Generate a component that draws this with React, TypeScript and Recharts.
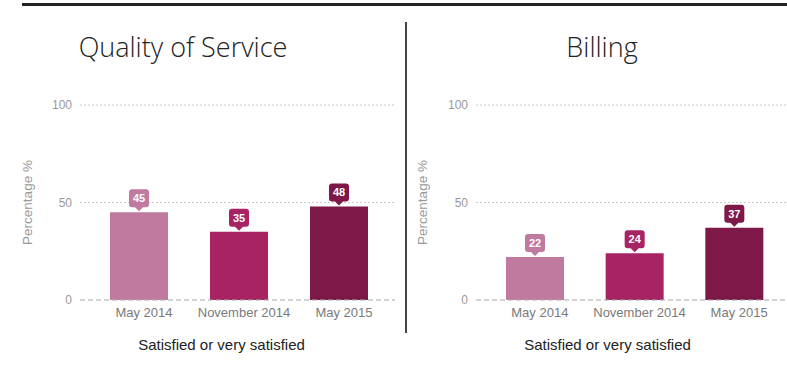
import { BarChart, Bar, XAxis, YAxis, CartesianGrid, ReferenceLine, LabelList, Cell } from 'recharts';

const periods = ['May 2014', 'November 2014', 'May 2015'];
const qualityValues = [45, 35, 48];
const billingValues = [22, 24, 37];
const barColors = ['#c07a9f', '#a72363', '#7d1849'];
const yTicks = [0, 50, 100];

const qualityData = periods.map((p, i) => ({ period: p, value: qualityValues[i] }));
const billingData = periods.map((p, i) => ({ period: p, value: billingValues[i] }));

// speech-bubble style value label above each bar
function Callout(props: any) {
  const { x, y, width, value, index } = props;
  const cx = Number(x) + Number(width) / 2;
  const top = Number(y);
  const w = 20;
  const h = 18;
  const b = top - 5;
  const t = b - h;
  const l = cx - w / 2;
  const r = cx + w / 2;
  const rad = 3;
  const d = `M${l + rad},${t} H${r - rad} Q${r},${t} ${r},${t + rad} V${b - rad} Q${r},${b} ${r - rad},${b} H${cx + 4} L${cx},${top - 1} L${cx - 4},${b} H${l + rad} Q${l},${b} ${l},${b - rad} V${t + rad} Q${l},${t} ${l + rad},${t} Z`;
  const fill = barColors[index ?? 0] || barColors[0];
  return (
    <g>
      <path d={d} fill={fill} />
      <text x={cx} y={t + h / 2 + 4} textAnchor="middle" fill="#fff" fontSize={11} fontWeight="bold" fontFamily="Liberation Sans, Arial, sans-serif">
        {value}
      </text>
    </g>
  );
}

interface PanelProps {
  data: { period: string; value: number }[];
  width: number;
  marginLeft: number;
  pad: { left: number; right: number };
  labelDx: number;
  yLabelOffset: number;
}

function Panel({ data, width, marginLeft, pad, labelDx, yLabelOffset }: PanelProps) {
  return (
    <BarChart
      width={width}
      height={369}
      data={data}
      margin={{ top: 105, right: 0, bottom: 17, left: marginLeft }}
      barSize={58}
    >
      <CartesianGrid vertical={false} horizontalValues={[50, 100]} stroke="#c8c8c8" strokeDasharray="2 2" />
      <ReferenceLine y={0} stroke="#aaaaaa" strokeDasharray="5 3" strokeWidth={1.2} />
      <XAxis
        dataKey="period"
        axisLine={false}
        tickLine={false}
        height={52}
        padding={pad}
        interval={0}
        tick={{ fill: '#7a7a7a', fontSize: 13, fontFamily: 'Liberation Sans, Arial, sans-serif', dx: 5 }}
        label={{ value: 'Satisfied or very satisfied', position: 'insideBottom', offset: 2, dx: labelDx, fill: '#222', fontSize: 15, fontFamily: 'Liberation Sans, Arial, sans-serif' }}
      />
      <YAxis
        domain={[0, 100]}
        ticks={yTicks}
        axisLine={false}
        tickLine={false}
        width={60}
        tick={{ fill: '#999', fontSize: 12, fontFamily: 'Liberation Sans, Arial, sans-serif' }}
        label={{ value: 'Percentage %', angle: -90, position: 'insideLeft', offset: yLabelOffset, fill: '#999', fontSize: 13.5, fontFamily: 'Liberation Sans, Arial, sans-serif', style: { textAnchor: 'middle' } }}
      />
      <Bar dataKey="value" isAnimationActive={false}>
        {data.map((_, i) => (
          <Cell key={i} fill={barColors[i]} />
        ))}
        <LabelList dataKey="value" content={(p: any) => <Callout {...p} />} />
      </Bar>
    </BarChart>
  );
}

const titleStyle: React.CSSProperties = {
  position: 'absolute',
  top: 29,
  fontFamily: 'Open Sans, sans-serif',
  fontWeight: 300,
  fontSize: 27,
  color: '#222',
  textAlign: 'center',
  lineHeight: '36px',
  whiteSpace: 'nowrap',
};

export default function App() {
  return (
    <div style={{ position: 'absolute', left: 0, top: 0, width: 787, height: 369, background: '#fff', overflow: 'hidden' }}>
      <div style={{ position: 'absolute', left: 22, top: 3, width: 765, height: 3, background: '#222' }} />
      <div style={{ position: 'absolute', left: 405, top: 22, width: 2, height: 311, background: '#444' }} />
      <div style={{ position: 'absolute', left: 0, top: 0 }}>
        <Panel data={qualityData} width={395} marginLeft={20} pad={{ left: 9, right: 6 }} labelDx={-16} yLabelOffset={7} />
      </div>
      <div style={{ position: 'absolute', left: 400, top: 0 }}>
        <Panel data={billingData} width={387} marginLeft={16} pad={{ left: 9, right: 3 }} labelDx={-24} yLabelOffset={6} />
      </div>
      <div style={{ ...titleStyle, left: 63, width: 240 }}>Quality of Service</div>
      <div style={{ ...titleStyle, left: 482, width: 240 }}>Billing</div>
    </div>
  );
}
